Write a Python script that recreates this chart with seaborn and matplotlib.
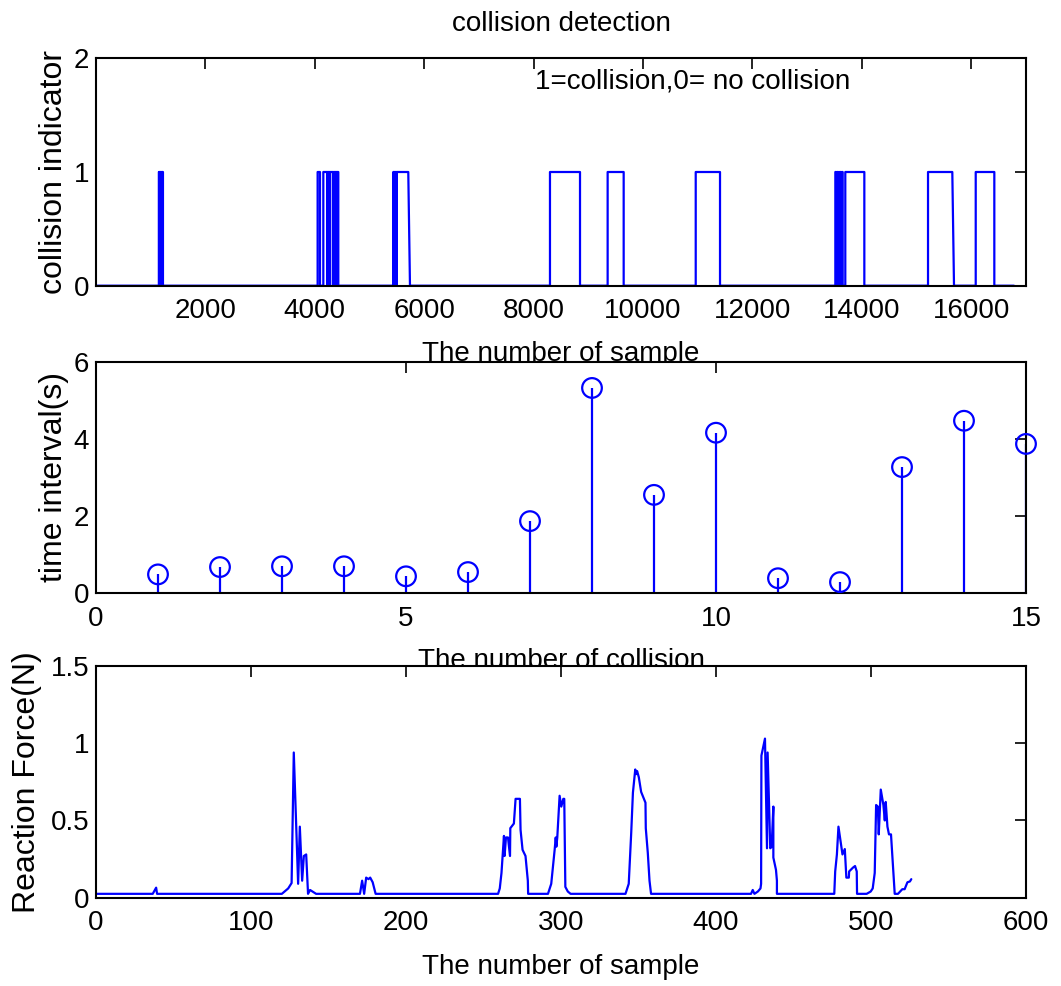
import numpy as np
import pandas as pd
import matplotlib
matplotlib.use("Agg")
import matplotlib.pyplot as plt
import seaborn as sns

# ---------------- data ----------------
# collision indicator: pulses (sample where it switches on / off), ramp = samples to fall back to 0
pulse_on = [1150, 1168, 1186, 1205, 4052, 4156, 4232, 4282, 4343, 4392,
            5435, 5455, 5478, 5500, 8299, 9353, 10963,
            13515, 13545, 13575, 13605, 13635, 13697, 15209, 16081]
pulse_off = [1160, 1178, 1196, 1225, 4095, 4225, 4275, 4335, 4385, 4430,
             5445, 5468, 5490, 5709, 8848, 9646, 11407,
             13530, 13560, 13590, 13620, 13649, 14045, 15653, 16421]
pulse_ramp = [0, 0, 0, 0, 0, 0, 0, 0, 0, 0,
              0, 0, 0, 31, 0, 0, 0,
              0, 0, 0, 0, 0, 0, 31, 0]
sample_first = 1
sample_last = 16780

# time interval between collisions
collision_no = list(range(1, 16))
interval_s = [0.49, 0.68, 0.70, 0.70, 0.44, 0.55, 1.87, 5.32, 2.55, 4.16,
              0.39, 0.29, 3.27, 4.47, 3.87]

# reaction force
force_x = [0, 36.6, 38.8, 39.4, 119.9, 124, 126.2, 127.6, 130.4, 131.5, 133, 134.1, 135.6,
           136.8, 138.1, 142, 170.3, 171.7, 173, 174.3, 175.8, 176.9, 178.5, 180.4,
           259.4, 260.5, 261.6, 263.2, 263.6, 264.5, 265.8, 267.1, 267.3, 269.6, 270.7,
           273.5, 273.9, 275.2, 277.1, 278.6, 278.8, 291.6, 293.7, 295.9, 296.6, 297,
           297.6, 299.1, 300.2, 301.5, 302.1, 302.8, 304.4, 306.2, 341.6, 343.7, 345.3,
           346.4, 347.9, 348.5, 349.1, 350.2, 351.7, 354.5, 354.7, 356, 357.1, 358.1,
           422.6, 423.7, 424.8, 427, 428.7, 429.1, 429.3, 431.6, 432.9, 433.3, 435, 435.9,
           437, 437, 438.7, 439.3, 439.3, 476.3, 476.9, 478, 479, 481.6, 483.1, 484.1,
           485.7, 485.9, 488.4, 489.7, 490.8, 491, 497.2, 499.8, 501.1, 502.4, 503.3,
           504.4, 505, 506.3, 508, 508.9, 509.5, 510.6, 511.6, 512.9, 515.3, 517.4,
           520.2, 521.7, 523.5, 525.1, 526]
force_n = [0.025, 0.025, 0.065, 0.025, 0.025, 0.06, 0.095, 0.94, 0.09, 0.46, 0.11, 0.27, 0.28,
           0.025, 0.05, 0.025, 0.025, 0.11, 0.025, 0.13, 0.12, 0.13, 0.10, 0.025,
           0.025, 0.06, 0.16, 0.40, 0.27, 0.39, 0.39, 0.27, 0.45, 0.48, 0.64,
           0.64, 0.44, 0.31, 0.27, 0.11, 0.025, 0.025, 0.09, 0.31, 0.39, 0.33,
           0.39, 0.66, 0.59, 0.64, 0.64, 0.07, 0.04, 0.025, 0.025, 0.09, 0.42,
           0.68, 0.83, 0.80, 0.82, 0.78, 0.685, 0.615, 0.45, 0.29, 0.11, 0.025,
           0.025, 0.05, 0.025, 0.04, 0.06, 0.09, 0.92, 1.03, 0.32, 0.94, 0.32, 0.33,
           0.59, 0.26, 0.18, 0.11, 0.025, 0.025, 0.17, 0.28, 0.46, 0.28, 0.315, 0.13,
           0.13, 0.17, 0.195, 0.205, 0.17, 0.025, 0.025, 0.04, 0.06, 0.16, 0.60,
           0.59, 0.41, 0.70, 0.60, 0.50, 0.62, 0.46, 0.41, 0.41, 0.025, 0.025,
           0.055, 0.055, 0.10, 0.105, 0.12]

# ---------------- style ----------------
sns.set_style("white")
plt.rcParams.update({
    "font.family": ["Liberation Sans", "DejaVu Sans"],
    "font.size": 20,
    "axes.linewidth": 1.5,
    "axes.edgecolor": "black",
    "xtick.direction": "in",
    "ytick.direction": "in",
    "xtick.major.size": 8,
    "ytick.major.size": 8,
    "xtick.major.width": 1.2,
    "ytick.major.width": 1.2,
    "xtick.major.pad": 9,
    "ytick.major.pad": 5,
    "xtick.color": "black",
    "ytick.color": "black",
    "axes.labelcolor": "black",
    "text.color": "black",
})
BLUE = "#0000ff"
LW = 1.6
LABEL_FS = 20
YLABEL_FS = 23

fig = plt.figure(figsize=(10.61, 9.86), dpi=100)
left, width = 96 / 1061, 930 / 1061
ax1 = fig.add_axes([left, 1 - 285.7 / 986, width, 227.4 / 986])
ax2 = fig.add_axes([left, 1 - 593.3 / 986, width, 231.6 / 986])
ax3 = fig.add_axes([left, 1 - 897.7 / 986, width, 231.7 / 986])
for ax in (ax1, ax2, ax3):
    ax.set_facecolor("white")
    ax.tick_params(top=True, right=True, labelsize=20)
    for sp in ax.spines.values():
        sp.set_visible(True)

# ---------------- collision indicator ----------------
cx, cy = [sample_first], [0]
for on, off, ramp in zip(pulse_on, pulse_off, pulse_ramp):
    cx += [on, on, off, off + ramp]
    cy += [0, 1, 1, 0]
cx.append(sample_last)
cy.append(0)
df_col = pd.DataFrame({"sample": cx, "indicator": cy})
sns.lineplot(data=df_col, x="sample", y="indicator", ax=ax1, color=BLUE,
             linewidth=LW, estimator=None, sort=False)
ax1.set_xlim(1, 17000)
ax1.set_ylim(0, 2)
ax1.set_xticks(range(2000, 17000, 2000))
ax1.set_yticks([0, 1, 2])
ax1.set_title("collision detection", fontsize=LABEL_FS, pad=20)
ax1.set_xlabel("The number of sample", fontsize=LABEL_FS, labelpad=12)
ax1.set_ylabel("collision indicator", fontsize=YLABEL_FS, labelpad=3)
ax1.text(8025, 1.80, "1=collision,0= no collision", fontsize=LABEL_FS,
         ha="left", va="center")

# ---------------- time interval stems ----------------
df_int = pd.DataFrame({"collision": collision_no, "interval": interval_s})
ax2.vlines(df_int["collision"], 0, df_int["interval"], color=BLUE, linewidth=LW, zorder=2)
sns.scatterplot(data=df_int, x="collision", y="interval", ax=ax2, marker="o", s=200,
                color=BLUE, facecolors="none", edgecolor=BLUE, linewidth=1.6,
                clip_on=False, zorder=3)
ax2.set_xlim(0, 15)
ax2.set_ylim(0, 6)
ax2.set_xticks([0, 5, 10, 15])
ax2.set_yticks([0, 2, 4, 6])
ax2.set_xlabel("The number of collision", fontsize=LABEL_FS, labelpad=12)
ax2.set_ylabel("time interval(s)", fontsize=YLABEL_FS, labelpad=3)

# ---------------- reaction force ----------------
df_f = pd.DataFrame({"sample": force_x, "force": force_n})
sns.lineplot(data=df_f, x="sample", y="force", ax=ax3, color=BLUE,
             linewidth=LW, estimator=None, sort=False)
ax3.set_xlim(0, 600)
ax3.set_ylim(0, 1.5)
ax3.set_xticks(range(0, 601, 100))
ax3.set_yticks([0, 0.5, 1, 1.5])
ax3.set_yticklabels(["0", "0.5", "1", "1.5"])
ax3.set_xlabel("The number of sample", fontsize=LABEL_FS, labelpad=13)
ax3.set_ylabel("Reaction Force(N)", fontsize=YLABEL_FS, labelpad=6)

fig.savefig("out.png", dpi=100, facecolor="white")
